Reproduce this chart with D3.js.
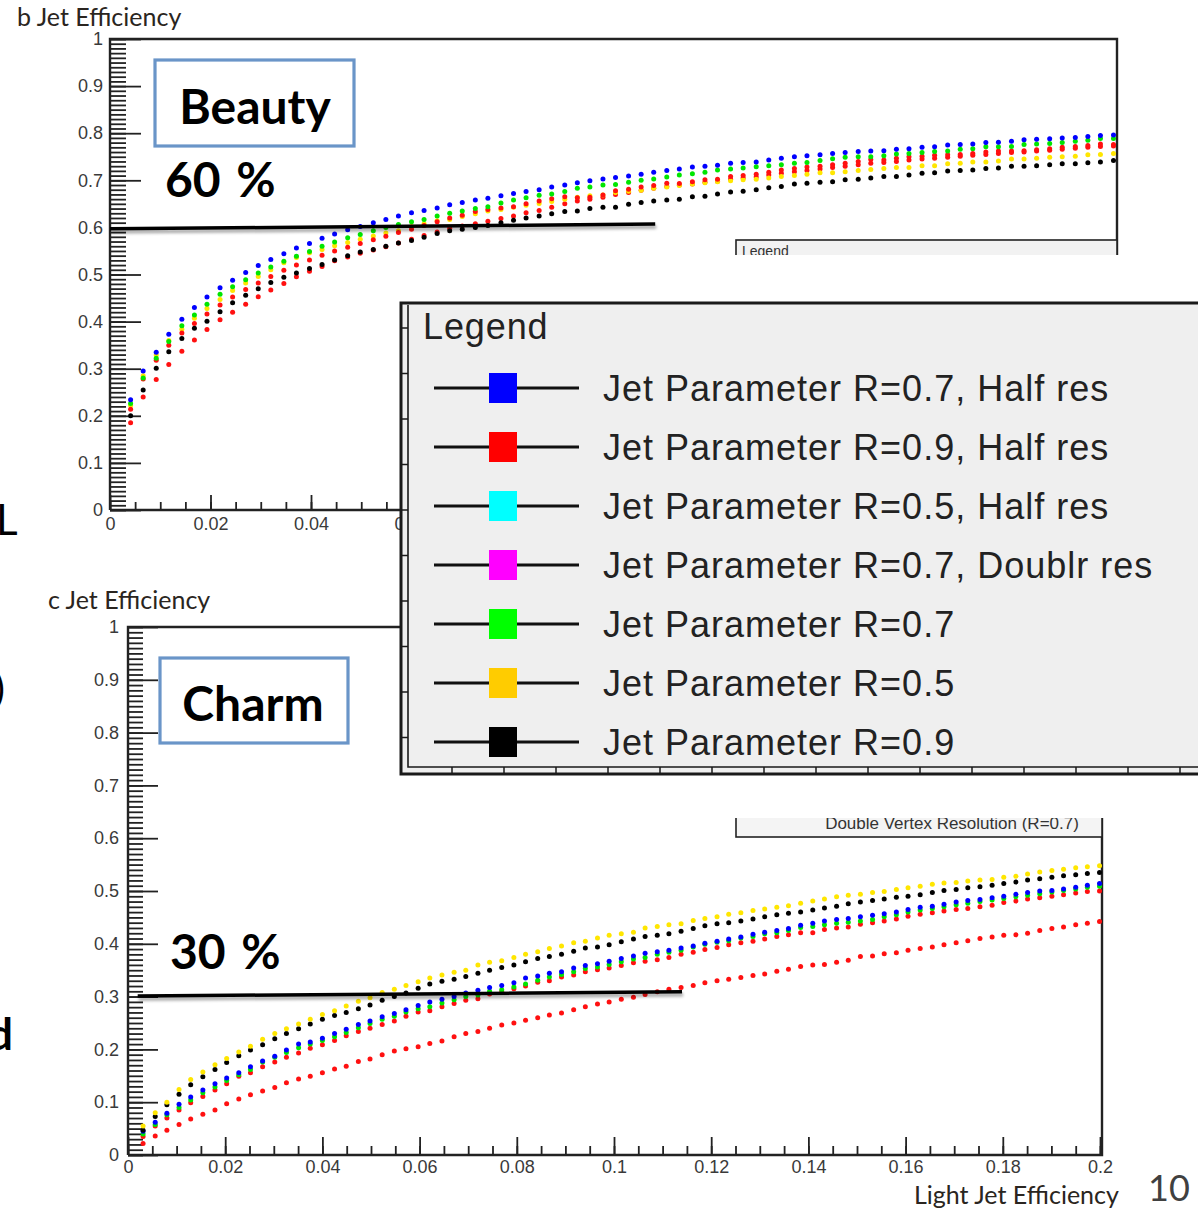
<!DOCTYPE html>
<html>
<head>
<meta charset="utf-8">
<script src="https://cdnjs.cloudflare.com/ajax/libs/d3/7.8.5/d3.min.js"></script>
<style>
    body { margin: 0; background: #fff; }
</style>
</head>
<body>
<div id="slide"></div>
<script>
// light jet efficiency of each dot (x), b plot
var beautyX = [0.0041, 0.0066, 0.0092, 0.0117, 0.0143, 0.0168, 0.0193, 0.0219, 0.0244, 0.0270,
    0.0295, 0.0320, 0.0346, 0.0371, 0.0397, 0.0422, 0.0447, 0.0473, 0.0498, 0.0524,
    0.0549, 0.0574, 0.0600, 0.0625, 0.0651, 0.0676, 0.0701, 0.0727, 0.0752, 0.0778,
    0.0803, 0.0828, 0.0854, 0.0879, 0.0905, 0.0930, 0.0955, 0.0981, 0.1006, 0.1032,
    0.1057, 0.1082, 0.1108, 0.1133, 0.1159, 0.1184, 0.1209, 0.1235, 0.1260, 0.1286,
    0.1311, 0.1336, 0.1362, 0.1387, 0.1413, 0.1438, 0.1463, 0.1489, 0.1514, 0.1540,
    0.1565, 0.1590, 0.1616, 0.1641, 0.1667, 0.1692, 0.1717, 0.1743, 0.1768, 0.1794,
    0.1819, 0.1844, 0.1870, 0.1895, 0.1921, 0.1946, 0.1971, 0.1997];

// b jet efficiency
var beautyBlue = [0.234, 0.295, 0.335, 0.373, 0.405, 0.430, 0.452, 0.472, 0.488, 0.504,
    0.519, 0.532, 0.544, 0.556, 0.566, 0.577, 0.586, 0.595, 0.602, 0.610,
    0.617, 0.624, 0.631, 0.636, 0.641, 0.648, 0.653, 0.658, 0.662, 0.667,
    0.672, 0.676, 0.680, 0.686, 0.690, 0.695, 0.699, 0.703, 0.706, 0.709,
    0.713, 0.717, 0.721, 0.724, 0.728, 0.730, 0.732, 0.736, 0.738, 0.739,
    0.743, 0.747, 0.750, 0.752, 0.754, 0.757, 0.759, 0.761, 0.762, 0.763,
    0.766, 0.767, 0.770, 0.771, 0.775, 0.776, 0.777, 0.780, 0.781, 0.783,
    0.786, 0.787, 0.788, 0.790, 0.791, 0.793, 0.795, 0.796];
var beautyGreen = [0.226, 0.280, 0.322, 0.358, 0.391, 0.414, 0.437, 0.458, 0.474, 0.489,
    0.503, 0.516, 0.528, 0.539, 0.549, 0.560, 0.569, 0.578, 0.585, 0.593,
    0.600, 0.606, 0.612, 0.617, 0.624, 0.630, 0.635, 0.640, 0.644, 0.652,
    0.658, 0.663, 0.668, 0.671, 0.676, 0.683, 0.686, 0.690, 0.691, 0.696,
    0.700, 0.703, 0.707, 0.711, 0.714, 0.717, 0.722, 0.724, 0.726, 0.729,
    0.731, 0.733, 0.736, 0.738, 0.742, 0.746, 0.749, 0.750, 0.750, 0.752,
    0.756, 0.757, 0.759, 0.761, 0.762, 0.766, 0.767, 0.771, 0.771, 0.772,
    0.776, 0.777, 0.778, 0.780, 0.783, 0.785, 0.789, 0.789];
var beautyYellow = [0.222, 0.285, 0.329, 0.360, 0.384, 0.407, 0.428, 0.447, 0.466, 0.482,
    0.496, 0.510, 0.525, 0.536, 0.546, 0.553, 0.561, 0.568, 0.575, 0.582,
    0.588, 0.593, 0.602, 0.608, 0.614, 0.617, 0.623, 0.629, 0.635, 0.638,
    0.643, 0.647, 0.651, 0.655, 0.660, 0.664, 0.667, 0.669, 0.674, 0.677,
    0.679, 0.683, 0.686, 0.689, 0.692, 0.695, 0.697, 0.699, 0.701, 0.702,
    0.705, 0.708, 0.710, 0.713, 0.716, 0.716, 0.718, 0.721, 0.723, 0.725,
    0.727, 0.727, 0.731, 0.731, 0.735, 0.736, 0.739, 0.739, 0.741, 0.745,
    0.745, 0.747, 0.749, 0.750, 0.751, 0.754, 0.755, 0.757];
var beautyRedHigh = [0.214, 0.278, 0.318, 0.350, 0.376, 0.396, 0.416, 0.435, 0.452, 0.468,
    0.482, 0.496, 0.509, 0.520, 0.531, 0.541, 0.550, 0.558, 0.566, 0.574,
    0.581, 0.589, 0.596, 0.604, 0.612, 0.620, 0.626, 0.634, 0.638, 0.641,
    0.644, 0.650, 0.656, 0.661, 0.665, 0.663, 0.664, 0.669, 0.678, 0.681,
    0.686, 0.689, 0.694, 0.693, 0.697, 0.701, 0.702, 0.708, 0.710, 0.713,
    0.717, 0.722, 0.725, 0.728, 0.730, 0.733, 0.736, 0.740, 0.744, 0.743,
    0.747, 0.750, 0.751, 0.753, 0.754, 0.755, 0.757, 0.760, 0.762, 0.762,
    0.763, 0.765, 0.767, 0.770, 0.772, 0.774, 0.777, 0.776];
var beautyRedLow = [0.185, 0.240, 0.277, 0.309, 0.337, 0.361, 0.383, 0.404, 0.420, 0.437,
    0.453, 0.467, 0.481, 0.495, 0.507, 0.517, 0.529, 0.537, 0.545, 0.552,
    0.559, 0.567, 0.575, 0.583, 0.590, 0.598, 0.603, 0.608, 0.613, 0.619,
    0.624, 0.631, 0.636, 0.643, 0.650, 0.656, 0.660, 0.664, 0.670, 0.674,
    0.679, 0.683, 0.687, 0.690, 0.692, 0.696, 0.698, 0.702, 0.705, 0.707,
    0.711, 0.715, 0.718, 0.721, 0.724, 0.727, 0.730, 0.733, 0.736, 0.738,
    0.740, 0.743, 0.745, 0.747, 0.749, 0.751, 0.753, 0.755, 0.757, 0.759,
    0.760, 0.762, 0.764, 0.766, 0.768, 0.770, 0.772, 0.773];
var beautyBlack = [0.200, 0.255, 0.301, 0.336, 0.364, 0.386, 0.401, 0.421, 0.440, 0.456,
    0.470, 0.483, 0.494, 0.503, 0.513, 0.521, 0.531, 0.540, 0.548, 0.553,
    0.560, 0.567, 0.572, 0.579, 0.587, 0.593, 0.596, 0.600, 0.604, 0.610,
    0.615, 0.620, 0.624, 0.629, 0.634, 0.635, 0.640, 0.643, 0.643, 0.649,
    0.653, 0.656, 0.658, 0.660, 0.665, 0.666, 0.671, 0.675, 0.677, 0.680,
    0.684, 0.687, 0.692, 0.694, 0.696, 0.697, 0.701, 0.702, 0.705, 0.708,
    0.708, 0.711, 0.715, 0.716, 0.720, 0.721, 0.722, 0.725, 0.726, 0.730,
    0.730, 0.731, 0.733, 0.735, 0.735, 0.737, 0.739, 0.742];

// light jet efficiency of each dot (x), c plot
var charmX = [0.0031, 0.0056, 0.0080, 0.0105, 0.0129, 0.0154, 0.0179, 0.0203, 0.0228, 0.0252,
    0.0277, 0.0302, 0.0326, 0.0351, 0.0375, 0.0400, 0.0425, 0.0449, 0.0474, 0.0498,
    0.0523, 0.0548, 0.0572, 0.0597, 0.0621, 0.0646, 0.0671, 0.0695, 0.0720, 0.0744,
    0.0769, 0.0794, 0.0818, 0.0843, 0.0867, 0.0892, 0.0917, 0.0941, 0.0966, 0.0990,
    0.1015, 0.1040, 0.1064, 0.1089, 0.1113, 0.1138, 0.1163, 0.1187, 0.1212, 0.1236,
    0.1261, 0.1286, 0.1310, 0.1335, 0.1359, 0.1384, 0.1409, 0.1433, 0.1458, 0.1482,
    0.1507, 0.1532, 0.1556, 0.1581, 0.1605, 0.1630, 0.1655, 0.1679, 0.1704, 0.1728,
    0.1753, 0.1778, 0.1802, 0.1827, 0.1851, 0.1876, 0.1901, 0.1925, 0.1950, 0.1974,
    0.1999];

// c jet efficiency
var charmYellow = [0.055, 0.080, 0.100, 0.124, 0.143, 0.157, 0.171, 0.183, 0.195, 0.206,
    0.219, 0.230, 0.239, 0.248, 0.257, 0.266, 0.273, 0.282, 0.291, 0.298,
    0.308, 0.314, 0.321, 0.328, 0.335, 0.341, 0.346, 0.350, 0.360, 0.365,
    0.368, 0.374, 0.380, 0.385, 0.391, 0.396, 0.402, 0.405, 0.411, 0.416,
    0.419, 0.422, 0.430, 0.433, 0.436, 0.438, 0.444, 0.448, 0.451, 0.456,
    0.459, 0.463, 0.466, 0.469, 0.472, 0.477, 0.481, 0.485, 0.489, 0.492,
    0.494, 0.497, 0.499, 0.503, 0.506, 0.509, 0.513, 0.515, 0.516, 0.519,
    0.521, 0.522, 0.526, 0.528, 0.532, 0.536, 0.539, 0.541, 0.544, 0.546,
    0.548];
var charmBlack = [0.047, 0.073, 0.095, 0.115, 0.133, 0.148, 0.162, 0.175, 0.188, 0.199,
    0.209, 0.220, 0.230, 0.239, 0.248, 0.257, 0.264, 0.270, 0.277, 0.284,
    0.293, 0.300, 0.307, 0.316, 0.324, 0.329, 0.333, 0.338, 0.344, 0.350,
    0.355, 0.360, 0.366, 0.372, 0.376, 0.380, 0.386, 0.392, 0.394, 0.398,
    0.404, 0.409, 0.414, 0.416, 0.419, 0.424, 0.429, 0.434, 0.438, 0.440,
    0.443, 0.447, 0.451, 0.455, 0.458, 0.460, 0.464, 0.468, 0.471, 0.476,
    0.479, 0.482, 0.485, 0.488, 0.490, 0.493, 0.497, 0.501, 0.503, 0.506,
    0.508, 0.511, 0.514, 0.517, 0.521, 0.523, 0.526, 0.529, 0.531, 0.533,
    0.535];
var charmBlue = [0.045, 0.062, 0.079, 0.096, 0.110, 0.123, 0.135, 0.146, 0.156, 0.167,
    0.178, 0.187, 0.199, 0.210, 0.214, 0.221, 0.230, 0.238, 0.247, 0.254,
    0.262, 0.268, 0.275, 0.283, 0.290, 0.295, 0.300, 0.307, 0.312, 0.317,
    0.321, 0.326, 0.335, 0.339, 0.344, 0.347, 0.354, 0.359, 0.362, 0.367,
    0.372, 0.377, 0.382, 0.385, 0.388, 0.392, 0.396, 0.401, 0.405, 0.409,
    0.413, 0.418, 0.422, 0.425, 0.429, 0.435, 0.439, 0.443, 0.446, 0.448,
    0.451, 0.454, 0.457, 0.460, 0.465, 0.469, 0.471, 0.475, 0.479, 0.482,
    0.484, 0.487, 0.490, 0.494, 0.497, 0.500, 0.501, 0.504, 0.507, 0.511,
    0.514];
var charmGreen = [0.040, 0.058, 0.076, 0.090, 0.104, 0.118, 0.129, 0.141, 0.152, 0.162,
    0.176, 0.185, 0.194, 0.203, 0.210, 0.217, 0.224, 0.232, 0.241, 0.249,
    0.257, 0.263, 0.271, 0.277, 0.281, 0.288, 0.294, 0.300, 0.303, 0.310,
    0.313, 0.318, 0.324, 0.331, 0.337, 0.342, 0.347, 0.353, 0.356, 0.361,
    0.366, 0.371, 0.374, 0.380, 0.384, 0.388, 0.394, 0.399, 0.403, 0.406,
    0.411, 0.414, 0.419, 0.421, 0.425, 0.431, 0.433, 0.436, 0.439, 0.441,
    0.443, 0.446, 0.451, 0.455, 0.460, 0.464, 0.467, 0.470, 0.474, 0.477,
    0.480, 0.483, 0.486, 0.489, 0.492, 0.495, 0.498, 0.501, 0.504, 0.507,
    0.509];
var charmRedHigh = [0.035, 0.055, 0.070, 0.085, 0.099, 0.111, 0.123, 0.135, 0.149, 0.156,
    0.167, 0.176, 0.185, 0.193, 0.202, 0.209, 0.217, 0.226, 0.234, 0.240,
    0.247, 0.254, 0.263, 0.271, 0.273, 0.281, 0.287, 0.293, 0.296, 0.305,
    0.309, 0.315, 0.320, 0.327, 0.330, 0.337, 0.341, 0.347, 0.351, 0.354,
    0.359, 0.364, 0.367, 0.370, 0.374, 0.380, 0.384, 0.389, 0.393, 0.398,
    0.402, 0.405, 0.409, 0.414, 0.417, 0.421, 0.421, 0.427, 0.430, 0.432,
    0.437, 0.440, 0.443, 0.447, 0.452, 0.456, 0.459, 0.462, 0.465, 0.467,
    0.470, 0.473, 0.478, 0.481, 0.485, 0.487, 0.490, 0.493, 0.496, 0.499,
    0.500];
var charmRedLow = [0.022, 0.036, 0.047, 0.058, 0.068, 0.077, 0.085, 0.097, 0.106, 0.114,
    0.121, 0.128, 0.137, 0.144, 0.149, 0.156, 0.163, 0.168, 0.177, 0.182,
    0.190, 0.197, 0.201, 0.205, 0.211, 0.216, 0.224, 0.230, 0.234, 0.240,
    0.246, 0.250, 0.255, 0.260, 0.265, 0.269, 0.275, 0.281, 0.286, 0.290,
    0.295, 0.299, 0.304, 0.309, 0.314, 0.317, 0.321, 0.326, 0.330, 0.333,
    0.336, 0.340, 0.343, 0.348, 0.352, 0.357, 0.360, 0.361, 0.365, 0.369,
    0.376, 0.377, 0.381, 0.383, 0.388, 0.391, 0.394, 0.398, 0.402, 0.406,
    0.410, 0.413, 0.416, 0.417, 0.420, 0.425, 0.429, 0.432, 0.436, 0.439,
    0.442];

// hand drawn working point lines [x, y]
var beautyCut = [[0, 0.597], [0.1085, 0.607]];
var charmCut = [[0.002, 0.301], [0.114, 0.309]];

var yMajorTicks = [0, 0.1, 0.2, 0.3, 0.4, 0.5, 0.6, 0.7, 0.8, 0.9, 1];
var xMajorTicks = [0, 0.02, 0.04, 0.06, 0.08, 0.1, 0.12, 0.14, 0.16, 0.18, 0.2];

var legendLabels = ["Jet Parameter R=0.7, Half res", "Jet Parameter R=0.9, Half res",
    "Jet Parameter R=0.5, Half res", "Jet Parameter R=0.7, Doublr res",
    "Jet Parameter R=0.7", "Jet Parameter R=0.5", "Jet Parameter R=0.9"];
var legendColors = ["#0000ff", "#ff0000", "#00ffff", "#ff00ff", "#00ff00", "#ffcc00", "#000000"];

var BLUE = "#0000ff", RED = "#ff1010", GREEN = "#00e600", YELLOW = "#ffe600", BLACK = "#000000";
var rootFont = "'Liberation Sans', Arial, sans-serif";
var slideFont = "Lato, 'Open Sans', sans-serif";

var svg = d3.select("#slide").append("svg")
    .attr("width", 1198)
    .attr("height", 1210)
    .style("display", "block")
    .style("background", "#fff");

svg.append("defs").append("filter")
    .attr("id", "shadow")
    .attr("filterUnits", "userSpaceOnUse")
    .attr("x", 0).attr("y", 0).attr("width", 1198).attr("height", 1210)
    .append("feDropShadow")
    .attr("dx", 1).attr("dy", 3).attr("stdDeviation", 1.8)
    .attr("flood-color", "#000").attr("flood-opacity", 0.35);

var plots = [
    {
        xs: beautyX,
        series: [
            {values: beautyRedLow, color: RED},
            {values: beautyBlack, color: BLACK},
            {values: beautyYellow, color: YELLOW},
            {values: beautyRedHigh, color: RED},
            {values: beautyGreen, color: GREEN},
            {values: beautyBlue, color: BLUE}
        ],
        left: 110, right: 1115, top: 39, bottom: 510, frameRight: 1117,
        yMajor: 31, yMinor: 16, xMajor: 15, xMinor: 8, yPad: 7, xPad: 7,
        // the pasted legend hides the rest of the x labels
        xLabelMax: 0.06,
        cut: beautyCut
    },
    {
        xs: charmX,
        series: [
            {values: charmRedLow, color: RED},
            {values: charmRedHigh, color: RED},
            {values: charmGreen, color: GREEN},
            {values: charmBlue, color: BLUE},
            {values: charmBlack, color: BLACK},
            {values: charmYellow, color: YELLOW}
        ],
        left: 128, right: 1100, top: 627, bottom: 1155, frameRight: 1102,
        yMajor: 30, yMinor: 15, xMajor: 18, xMinor: 9, yPad: 9, xPad: 5,
        xLabelMax: 0.2,
        cut: charmCut
    }
];

function styleAxis(sel) {
    sel.select(".domain").remove();
    sel.selectAll(".tick line")
        .attr("stroke", "#222")
        .attr("stroke-width", 1.8);
    sel.selectAll(".tick text")
        .attr("fill", "#3a3a3a")
        .attr("font-size", 18)
        .attr("font-family", rootFont);
}

function drawPlot(p) {
    var g = svg.append("g");
    var x = d3.scaleLinear().domain([0, 0.2]).range([p.left, p.right]);
    var y = d3.scaleLinear().domain([0, 1]).range([p.bottom, p.top]);
    var fmt = d3.format("~g");
    p.x = x;
    p.y = y;

    // ROOT frame
    g.append("path")
        .attr("d", "M" + p.left + "," + p.bottom + "V" + p.top + "H" + p.frameRight +
            "V" + p.bottom + "H" + p.left)
        .attr("fill", "none")
        .attr("stroke", "#222")
        .attr("stroke-width", 2.4);

    var yMinorTicks = d3.range(0, 101).map(function (i) { return i / 100; });
    var xMinorTicks = d3.range(0, 41).map(function (i) { return i * 0.005; });

    g.append("g")
        .attr("transform", "translate(" + p.left + ",0)")
        .call(d3.axisLeft(y).tickValues(yMinorTicks).tickSize(-p.yMinor).tickFormat(""))
        .call(styleAxis);
    g.append("g")
        .attr("transform", "translate(" + p.left + ",0)")
        .call(d3.axisLeft(y).tickValues(yMajorTicks).tickSizeInner(-p.yMajor).tickSizeOuter(0)
            .tickPadding(p.yPad).tickFormat(fmt))
        .call(styleAxis);

    g.append("g")
        .attr("transform", "translate(0," + p.bottom + ")")
        .call(d3.axisBottom(x).tickValues(xMinorTicks).tickSize(-p.xMinor).tickFormat(""))
        .call(styleAxis);
    g.append("g")
        .attr("transform", "translate(0," + p.bottom + ")")
        .call(d3.axisBottom(x).tickValues(xMajorTicks).tickSizeInner(-p.xMajor).tickSizeOuter(0)
            .tickPadding(p.xPad).tickFormat(function (d) {
                return d <= p.xLabelMax + 1e-9 ? fmt(d) : "";
            }))
        .call(styleAxis);

    // dotted efficiency curves
    p.series.forEach(function (s) {
        g.append("g").selectAll("circle")
            .data(s.values)
            .enter()
            .append("circle")
            .attr("cx", function (d, i) { return x(p.xs[i]); })
            .attr("cy", function (d) { return y(d); })
            .attr("r", 2.5)
            .attr("fill", s.color);
    });
}

plots.forEach(drawPlot);

// small ROOT legend boxes that peek out from behind the pasted legend
svg.append("rect")
    .attr("x", 736).attr("y", 240).attr("width", 381).attr("height", 40)
    .attr("fill", "#f2f2f2").attr("stroke", "#222").attr("stroke-width", 1.6);
svg.append("text")
    .attr("x", 742).attr("y", 256)
    .attr("font-family", rootFont).attr("font-size", 14).attr("fill", "#333")
    .text("Legend");

svg.append("rect")
    .attr("x", 736).attr("y", 790).attr("width", 366).attr("height", 47)
    .attr("fill", "#f4f4f4").attr("stroke", "#222").attr("stroke-width", 1.6);
svg.append("text")
    .attr("x", 952).attr("y", 829)
    .attr("text-anchor", "middle")
    .attr("font-family", rootFont).attr("font-size", 17).attr("fill", "#333")
    .text("Double Vertex Resolution (R=0.7)");

// pasted legend picture: white margin, then the grey box
svg.append("rect")
    .attr("x", 400).attr("y", 255).attr("width", 798).attr("height", 563)
    .attr("fill", "#fff");

var legend = svg.append("g");
legend.append("rect")
    .attr("x", 401).attr("y", 303).attr("width", 820).attr("height", 471)
    .attr("fill", "#efefef")
    .attr("stroke", "#1a1a1a")
    .attr("stroke-width", 3);
legend.append("path")
    .attr("d", "M408,305V767H1198")
    .attr("fill", "none")
    .attr("stroke", "#1a1a1a")
    .attr("stroke-width", 1.6);
legend.append("g").selectAll("line")
    .data(d3.range(328, 767, 45.5))
    .enter().append("line")
    .attr("x1", 401).attr("x2", 408)
    .attr("y1", function (d) { return d; }).attr("y2", function (d) { return d; })
    .attr("stroke", "#1a1a1a").attr("stroke-width", 1.5);
legend.append("g").selectAll("line")
    .data(d3.range(452, 1198, 52))
    .enter().append("line")
    .attr("x1", function (d) { return d; }).attr("x2", function (d) { return d; })
    .attr("y1", 767).attr("y2", 774)
    .attr("stroke", "#1a1a1a").attr("stroke-width", 1.5);

legend.append("text")
    .attr("x", 423).attr("y", 339)
    .attr("font-family", rootFont).attr("font-size", 36)
    .attr("letter-spacing", 0.9)
    .attr("fill", "#222")
    .text("Legend");

var entry = legend.selectAll(".entry")
    .data(legendLabels)
    .enter()
    .append("g")
    .attr("class", "entry")
    .attr("transform", function (d, i) { return "translate(0," + (388 + i * 59) + ")"; });
entry.append("line")
    .attr("x1", 434).attr("x2", 579)
    .attr("stroke", "#111").attr("stroke-width", 3);
entry.append("rect")
    .attr("x", 489).attr("y", -15).attr("width", 28).attr("height", 30)
    .attr("fill", function (d, i) { return legendColors[i]; });
entry.append("text")
    .attr("x", 603).attr("y", 13)
    .attr("font-family", rootFont).attr("font-size", 36)
    .attr("letter-spacing", 1)
    .attr("fill", "#222")
    .text(function (d) { return d; });

// slide annotations
var notes = [
    {label: "Beauty", box: [155, 60, 199, 86], tx: 255, ty: 124, pct: "60 %", px: 165, py: 197, plot: plots[0]},
    {label: "Charm", box: [160, 658, 188, 85], tx: 253, ty: 721, pct: "30 %", px: 170, py: 969, plot: plots[1]}
];
notes.forEach(function (n) {
    svg.append("rect")
        .attr("x", n.box[0]).attr("y", n.box[1]).attr("width", n.box[2]).attr("height", n.box[3])
        .attr("fill", "#fff").attr("stroke", "#6a95c8").attr("stroke-width", 3.2);
    svg.append("text")
        .attr("x", n.tx).attr("y", n.ty)
        .attr("text-anchor", "middle")
        .attr("font-family", slideFont).attr("font-weight", "bold").attr("font-size", 48)
        .attr("fill", "#000")
        .text(n.label);
    svg.append("text")
        .attr("x", n.px).attr("y", n.py)
        .attr("font-family", slideFont).attr("font-weight", "bold").attr("font-size", 48)
        .attr("word-spacing", 4)
        .attr("fill", "#000")
        .text(n.pct);
    svg.append("line")
        .attr("x1", n.plot.x(n.plot.cut[0][0])).attr("y1", n.plot.y(n.plot.cut[0][1]))
        .attr("x2", n.plot.x(n.plot.cut[1][0])).attr("y2", n.plot.y(n.plot.cut[1][1]))
        .attr("stroke", "#000").attr("stroke-width", 3.5)
        .attr("filter", "url(#shadow)");
});

var slideText = [
    {t: "b Jet Efficiency", x: 17, y: 26, size: 25, fill: "#2a2520"},
    {t: "c Jet Efficiency", x: 48, y: 609, size: 25, fill: "#2a2520"},
    {t: "Light Jet Efficiency", x: 914, y: 1204, size: 25, fill: "#2a2520"},
    {t: "10", x: 1148, y: 1201, size: 36, fill: "#404040"}
];
svg.selectAll(".slide-text")
    .data(slideText)
    .enter()
    .append("text")
    .attr("class", "slide-text")
    .attr("x", function (d) { return d.x; })
    .attr("y", function (d) { return d.y; })
    .attr("font-family", slideFont)
    .attr("font-size", function (d) { return d.size; })
    .attr("fill", function (d) { return d.fill; })
    .text(function (d) { return d.t; });

// bits of the slide text cut at the left edge
svg.append("text").attr("x", -4).attr("y", 535)
    .attr("font-family", slideFont).attr("font-size", 42).attr("fill", "#000").text("L");
svg.append("text").attr("x", 5).attr("y", 703).attr("text-anchor", "end")
    .attr("font-family", slideFont).attr("font-size", 40).attr("fill", "#000").text(")");
svg.append("text").attr("x", 13).attr("y", 1050).attr("text-anchor", "end")
    .attr("font-family", slideFont).attr("font-weight", "bold").attr("font-size", 44)
    .attr("fill", "#000").text("d");
</script>
</body>
</html>
